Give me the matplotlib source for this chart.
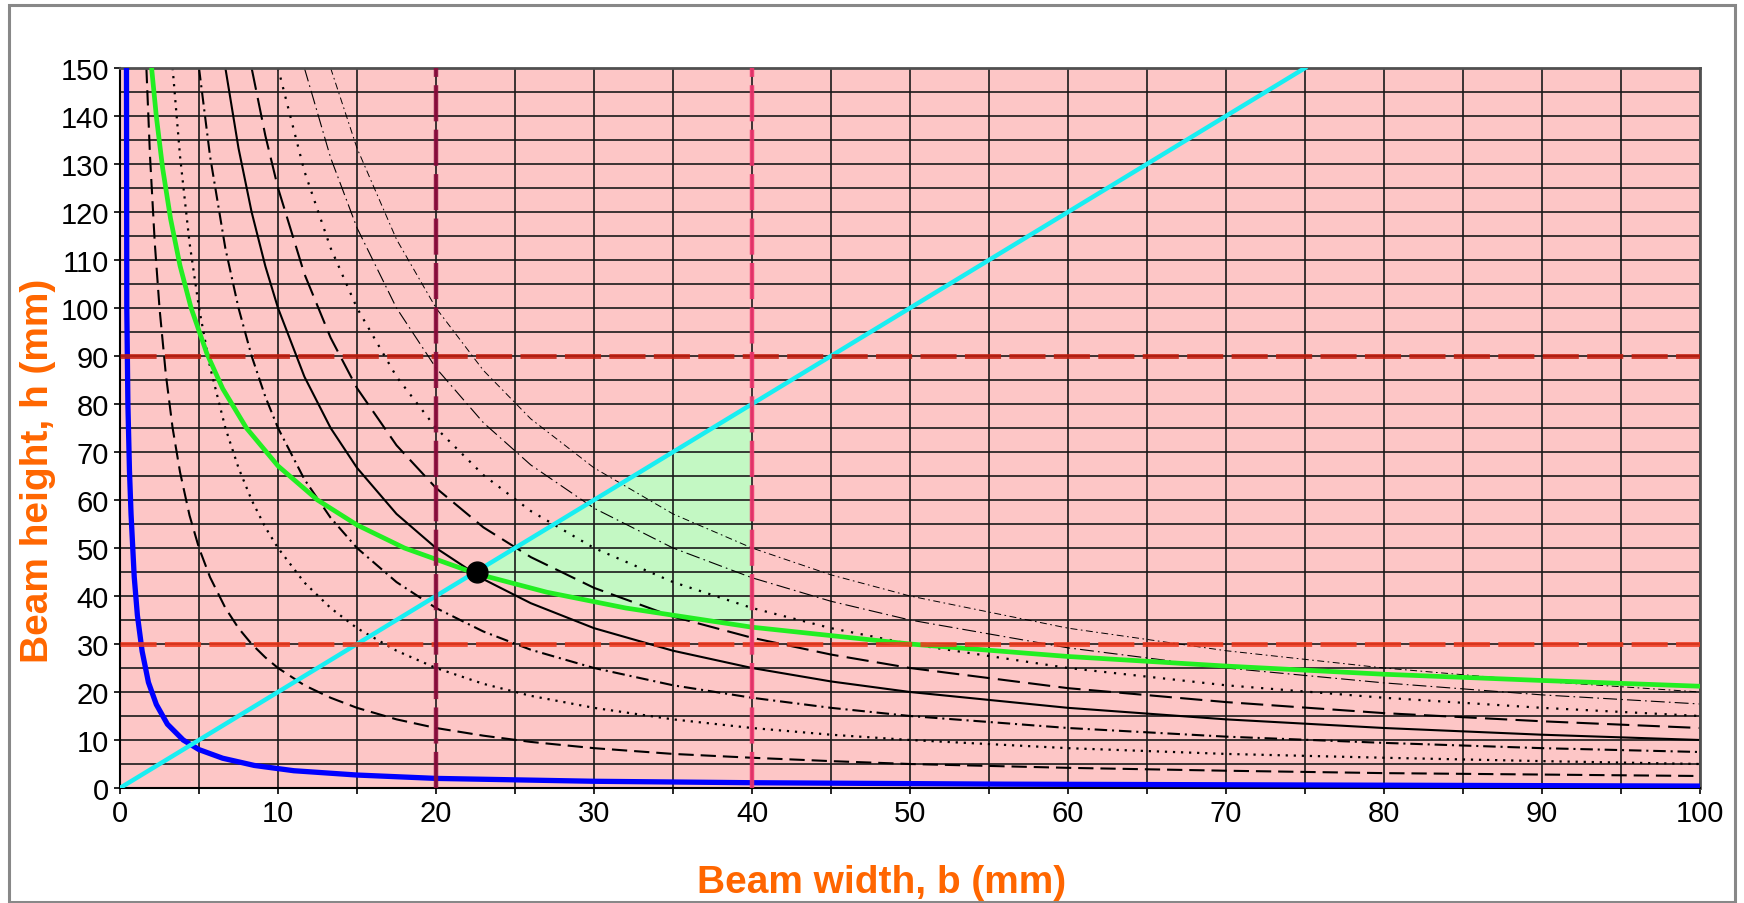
import matplotlib
matplotlib.use("Agg")
import matplotlib.pyplot as plt
from matplotlib.patches import Rectangle

plt.rcParams['font.family'] = ['Liberation Sans', 'DejaVu Sans']
plt.rcParams['lines.scale_dashes'] = False

# --- data --------------------------------------------------------------
# common beam-width samples for the black area contours (mm)
b_pts = [1.67, 1.9, 2.2, 2.5, 2.9, 3.33, 3.8, 4.4, 5, 5.7, 6.67, 7.5, 8.33,
         9.2, 10, 11.67, 13.33, 15, 17.5, 20, 23, 26, 30, 35, 40, 45, 50,
         60, 70, 80, 90, 100]

# heights of each contour, aligned with the tail of b_pts
area_250 = [150, 131.6, 113.6, 100, 86.2, 75, 65.8, 56.8, 50, 43.9, 37.5,
            33.3, 30, 27.2, 25, 21.4, 18.8, 16.7, 14.3, 12.5, 10.9, 9.6, 8.3,
            7.1, 6.3, 5.6, 5, 4.2, 3.6, 3.1, 2.8, 2.5]
area_500 = [150, 131.6, 113.6, 100, 87.7, 75, 66.7, 60, 54.3, 50, 42.8,
            37.5, 33.3, 28.6, 25, 21.7, 19.2, 16.7, 14.3, 12.5, 11.1, 10,
            8.3, 7.1, 6.3, 5.6, 5]
area_750 = [150, 131.6, 112.4, 100, 90, 81.5, 75, 64.3, 56.3, 50, 42.9,
            37.5, 32.6, 28.8, 25, 21.4, 18.8, 16.7, 15, 12.5, 10.7, 9.4,
            8.3, 7.5]
area_1000 = [150, 133.3, 120, 108.7, 100, 85.7, 75, 66.7, 57.1, 50, 43.5,
             38.5, 33.3, 28.6, 25, 22.2, 20, 16.7, 14.3, 12.5, 11.1, 10]
area_1250 = [150, 135.9, 125, 107.1, 93.8, 83.3, 71.4, 62.5, 54.3, 48.1,
             41.7, 35.7, 31.3, 27.8, 25, 20.8, 17.9, 15.6, 13.9, 12.5]
area_1500 = [150, 128.5, 112.5, 100, 85.7, 75, 65.2, 57.7, 50, 42.9, 37.5,
             33.3, 30, 25, 21.4, 18.8, 16.7, 15]
area_1750 = [150, 131.3, 116.7, 100, 87.5, 76.1, 67.3, 58.3, 50, 43.8, 38.9,
             35, 29.2, 25, 21.9, 19.4, 17.5]
area_2000 = [150, 133.3, 114.3, 100, 87, 76.9, 66.7, 57.1, 50, 44.4, 40,
             33.3, 28.6, 25, 22.2, 20]

# strength limit (green)
green_b = [2, 2.3, 2.7, 3.2, 3.8, 4.5, 5.5, 6.5, 8, 10, 12.5, 15, 18, 22.5,
           27, 32, 40, 50, 60, 70, 80, 90, 100]
green_h = [150, 139.9, 129.1, 118.6, 108.8, 100, 90.5, 83.2, 75, 67.1, 60,
           54.8, 50, 44.7, 40.8, 37.5, 33.5, 30, 27.4, 25.4, 23.7, 22.4, 21.2]

# deflection limit (blue)
blue_b = [0.41, 0.43, 0.5, 0.6, 0.7, 0.9, 1.1, 1.4, 1.8, 2.3, 3, 4, 5, 6.5,
          8.5, 11, 15, 20, 30, 40, 56, 100]
blue_h = [150, 100, 80, 66, 57, 44, 36, 28.5, 22, 17.4, 13.3, 10, 8, 6.2,
          4.7, 3.6, 2.7, 2, 1.4, 1.1, 0.8, 0.4]

# aspect ratio line h = 2b (cyan)
cyan_b = [0, 75]
cyan_h = [0, 150]

# feasible region
fill_b = [22.5, 25, 30, 35, 40, 40, 35, 30, 27, 25, 22.5]
fill_h = [45, 50, 60, 70, 80, 33.5, 35.9, 38.7, 40.8, 42.4, 45]

# optimum point
opt_b = [22.6]
opt_h = [45]

# size limits
h_limits = [90, 30]
b_limits = [20, 40]

# --- styles ---------------------------------------------------------------
contours = [area_250, area_500, area_750, area_1000,
            area_1250, area_1500, area_1750, area_2000]
contour_styles = [
    (1.5, (0, (11, 5))),
    (1.6, (0, (1.6, 4.2))),
    (1.5, (0, (9, 3.5, 1.5, 3.5))),
    (1.5, '-'),
    (1.5, (0, (16, 6))),
    (1.6, (0, (1.6, 5.5))),
    (0.8, (0, (10, 3, 1.2, 3))),
    (0.7, (0, (5, 2.5, 1.2, 2.5))),
]
h_limit_colors = ['#c41c0c', '#f0361a']
b_limit_colors = ['#8c0a3c', '#f0346e']
orange = '#ff6600'

fig = plt.figure(figsize=(17.44, 9.04), dpi=100)
ax = fig.add_axes([120 / 1744, 115 / 904, 1580 / 1744, 720 / 904])
ax.set_facecolor('#fdc6c6')

ax.fill(fill_b, fill_h, color='#c3f8c3', lw=0, zorder=1)

for h_vals, (lw, ls) in zip(contours, contour_styles):
    ax.plot(b_pts[-len(h_vals):], h_vals, color='black', lw=lw, ls=ls,
            zorder=2)

ax.plot(blue_b, blue_h, color='#0000ff', lw=3.8, zorder=3,
        solid_capstyle='butt')
ax.plot(cyan_b, cyan_h, color='#19eef2', lw=3.2, zorder=3)
ax.plot(green_b, green_h, color='#22ee22', lw=3.4, zorder=3)

for h, c in zip(h_limits, h_limit_colors):
    ax.axhline(h, color=c, lw=3.5, ls=(0, (26, 6)), alpha=0.85, zorder=4)
for b, c in zip(b_limits, b_limit_colors):
    ax.axvline(b, color=c, lw=3.2, ls=(0, (26, 6)), alpha=0.9, zorder=4)

ax.plot(opt_b, opt_h, 'o', color='black', ms=15, zorder=5)

ax.set_xlim(0, 100)
ax.set_ylim(0, 150)
ax.set_xticks(range(0, 101, 10))
ax.set_xticks(range(5, 100, 10), minor=True)
ax.set_yticks(range(0, 151, 10))
ax.set_yticks(range(5, 150, 10), minor=True)
ax.grid(which='both', color='#1a1a1a', lw=1.2)
ax.tick_params(which='both', direction='out', length=4, width=1.2,
               labelsize=21, pad=4)
ax.tick_params(axis='y', which='minor', length=0)

for side in ['left', 'bottom']:
    ax.spines[side].set_color('black')
    ax.spines[side].set_linewidth(1.5)
for side in ['top', 'right']:
    ax.spines[side].set_color('#505050')
    ax.spines[side].set_linewidth(2)

fig.text(882 / 1744, 21 / 904, 'Beam width, b (mm)', ha='center',
         va='center', fontsize=28, fontweight='bold', color=orange)
fig.text(38 / 1744, 433 / 904, 'Beam height, h (mm)', ha='center',
         va='center', rotation=90, fontsize=28, fontweight='bold',
         color=orange)
# title sits almost entirely above the visible frame, as in the source
fig.text(958 / 1744, 916 / 904, 'Beam design space', ha='center',
         va='baseline', fontsize=37, fontweight='bold', color=orange)

fig.add_artist(Rectangle((9 / 1744, 1 / 904), 1726 / 1744, 897 / 904,
                         transform=fig.transFigure, fill=False,
                         ec='#888888', lw=2.2))

fig.savefig('out.png', dpi=100)
